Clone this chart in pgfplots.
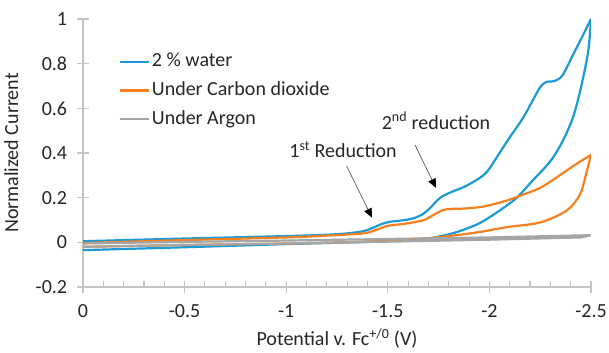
\documentclass[border=0pt]{standalone}
\usepackage{fontspec}
\setmainfont{Carlito}
\usepackage{pgfplots}
\pgfplotsset{compat=1.18}
\usetikzlibrary{arrows.meta}
\definecolor{cblue}{HTML}{1B9AD6}
\definecolor{corange}{HTML}{F7801E}
\definecolor{cgray}{HTML}{A5A5A5}
\definecolor{axgray}{HTML}{C4C4C4}
\definecolor{txt}{HTML}{262626}
\begin{document}
\fontsize{20bp}{24bp}\selectfont
\begin{tikzpicture}
\begin{axis}[
  scale only axis, width=508bp, height=268bp,
  x dir=reverse, xmin=-2.5, xmax=0, ymin=-0.2, ymax=1,
  axis x line*=bottom, axis y line*=left,
  axis line style={axgray, line width=1.3bp, -},
  xtick={0,-0.5,-1,-1.5,-2,-2.5},
  ytick={-0.2,0,0.2,0.4,0.6,0.8,1},
  minor x tick num=4,
  tick align=center,
  major tick length=12bp, minor tick length=6bp,
  tick style={axgray, line width=1.1bp},
  minor x tick style={yshift=3bp},
  /pgf/number format/assume math mode=true,
  tick label style={font=\fontsize{20bp}{24bp}\selectfont, text=txt},
  xticklabel style={yshift=-5bp},
  yticklabel style={xshift=-3bp},
  label style={font=\fontsize{20bp}{24bp}\selectfont, text=txt},
  xlabel={Potential v. Fc\textsuperscript{+/0} (V)},
  xlabel style={yshift=3bp},
  ylabel={Normalized Current},
  ylabel style={yshift=4bp},
  legend style={at={(axis description cs:0.07,0.88)}, anchor=north west, draw=none, fill=none,
    row sep=8bp, font=\fontsize{20bp}{24bp}\selectfont, text=txt, inner sep=0pt},
  legend cell align=left,
  legend image code/.code={\draw[#1] (0bp,0bp) -- (29bp,0bp);},
  line join=round,
]
\addplot[cblue, line width=2.2bp, smooth, tension=0.5] coordinates {
(0,0.005) (-0.5,0.017) (-1.0,0.028) (-1.2,0.034) (-1.3,0.040) (-1.38,0.050)
(-1.43,0.066) (-1.47,0.082) (-1.51,0.092) (-1.56,0.097) (-1.62,0.106) (-1.67,0.125)
(-1.71,0.155) (-1.74,0.185) (-1.77,0.207) (-1.82,0.228) (-1.87,0.246) (-1.92,0.270)
(-1.97,0.300) (-2.0,0.33) (-2.05,0.40) (-2.1,0.47) (-2.165,0.556) (-2.21,0.63)
(-2.25,0.695) (-2.28,0.718) (-2.32,0.722) (-2.36,0.748) (-2.41,0.837) (-2.46,0.926)
(-2.5,1.0)
};
\addlegendentry{2 \% water}
\addplot[cblue, line width=2.2bp, smooth, tension=0.5, forget plot] coordinates {
(-2.5,1.0)
(-2.486,0.853) (-2.446,0.675) (-2.41,0.556) (-2.36,0.452) (-2.30,0.363) (-2.21,0.274)
(-2.135,0.2) (-2.05,0.142) (-1.95,0.085) (-1.84,0.046) (-1.757,0.027) (-1.70,0.018)
(-1.5,0.005) (-1.0,-0.008) (-0.5,-0.022) (0,-0.035)
};
\addplot[corange, line width=2.2bp, smooth, tension=0.5] coordinates {
(0,-0.003) (-0.5,0.010) (-1.0,0.022) (-1.2,0.030) (-1.38,0.040) (-1.45,0.058)
(-1.5,0.074) (-1.59,0.084) (-1.675,0.099) (-1.72,0.120) (-1.77,0.144) (-1.82,0.150)
(-1.87,0.151) (-1.97,0.160) (-2.085,0.187) (-2.17,0.215) (-2.25,0.244) (-2.33,0.29)
(-2.41,0.34) (-2.5,0.392)
};
\addlegendentry{Under Carbon dioxide}
\addplot[corange, line width=2.2bp, smooth, tension=0.5, forget plot] coordinates {
(-2.5,0.392)
(-2.48,0.32) (-2.446,0.215) (-2.38,0.142) (-2.25,0.089) (-2.085,0.068) (-1.95,0.046)
(-1.79,0.027) (-1.6,0.012) (-1.2,-0.002) (-0.5,-0.012) (0,-0.02)
};
\addplot[cgray, line width=2.2bp] coordinates {
(0,-0.005) (-0.5,0.002) (-1,0.008) (-1.5,0.015) (-2,0.022) (-2.5,0.032)
(-2.45,0.022) (-2,0.012) (-1.5,0.003) (-1,-0.005) (-0.5,-0.012) (0,-0.02)
};
\addlegendentry{Under Argon}
\draw[-{Triangle[length=9bp,width=8bp,color=black]}, color=black!65, line width=0.7bp]
  (axis cs:-1.297,0.342) -- (axis cs:-1.422,0.111);
\draw[-{Triangle[length=9bp,width=8bp,color=black]}, color=black!65, line width=0.7bp]
  (axis cs:-1.634,0.436) -- (axis cs:-1.737,0.244);
\node[text=txt] at (axis cs:-1.28,0.416) {1\textsuperscript{st} Reduction};
\node[text=txt] at (axis cs:-1.737,0.545) {2\textsuperscript{nd} reduction};
\coordinate (BL) at (axis cs:0,-0.2);
\coordinate (TR) at (axis cs:-2.5,1);
\end{axis}
\pgfresetboundingbox
\useasboundingbox ([shift={(-83bp,-66bp)}]BL) rectangle ([shift={(18bp,19bp)}]TR);
\end{tikzpicture}
\end{document}
